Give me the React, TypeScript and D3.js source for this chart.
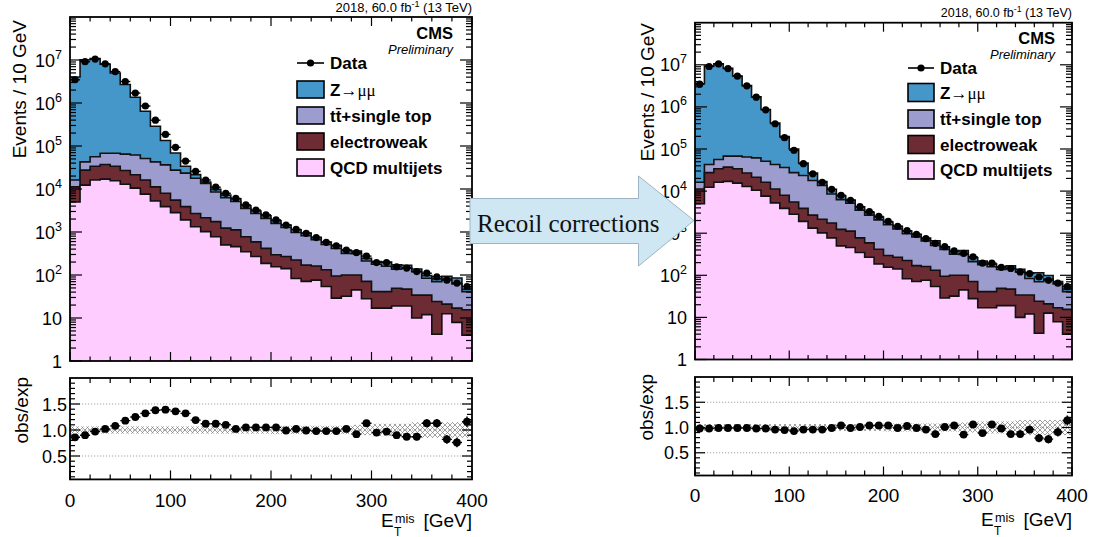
import React from "react";
import * as d3 from "d3";

// ---------- data ----------
const binLow = [0, 10, 20, 30, 40, 50, 60, 70, 80, 90, 100, 110, 120, 130, 140, 150, 160, 170, 180, 190,
  200, 210, 220, 230, 240, 250, 260, 270, 280, 290, 300, 310, 320, 330, 340, 350, 360, 370, 380, 390];
const binWidth = 10;

const dataCounts = [3.47e6, 9.12e6, 1.05e7, 8.13e6, 5.37e6, 3.16e6, 1.7e6, 8.51e5, 3.98e5, 1.86e5,
  9.33e4, 4.47e4, 2.57e4, 1.62e4, 1.1e4, 7940, 6030, 4270, 3240, 2510,
  1910, 1450, 1150, 933, 741, 575, 479, 380, 331, 275,
  195, 195, 155, 145, 120, 110, 91, 76, 65, 54];

const qcdMultijets = [5000, 12300, 16200, 17000, 15500, 12900, 10500, 7590, 5250, 3890,
  2820, 1910, 1320, 1020, 776, 501, 457, 347, 269, 186,
  155, 141, 83, 71, 76, 54, 29, 32, 45, 28,
  17, 17, 19, 19, 10, 12, 4.2, 12.6, 7.9, 4];

const electroweak = [6200, 15200, 17700, 20200, 18400, 14000, 10900, 8610, 5950, 4050,
  2680, 1980, 1370, 1120, 964, 729, 663, 429, 320, 231,
  140, 128, 141, 99, 86, 78, 66, 68, 55, 43,
  24, 24, 30, 28, 24, 22, 20, 8.4, 9.1, 11.5];

const ttbarSingleTop = [5000, 15200, 22300, 30400, 33700, 37700, 40300, 35100, 31500, 28400,
  22000, 19500, 15100, 11400, 6800, 5050, 4020, 2760, 2100, 1660,
  1290, 1000, 750, 650, 496, 379, 317, 218, 213, 140,
  137, 119, 88, 98, 86, 50, 46, 60, 45, 25.5];

const zmumuBefore = [4.01e6, 1.006e7, 1.074e7, 7.9e6, 4.9e6, 2.62e6, 1.3e6, 5.94e5, 2.45e5, 9.77e4,
  4.11e4, 1.05e4, 3800, 1000, 1280, 940, 770, 530, 400, 310,
  240, 190, 155, 122, 98, 76, 77, 55, 47, 32,
  27, 41, 35, 22, 18, 13, 11, 12, 23, 6];

const zmumuAfter = [3.52e6, 9.27e6, 1.054e7, 8.14e6, 5.35e6, 3.13e6, 1.67e6, 8.17e5, 3.72e5, 1.6e5,
  7.25e4, 2.32e4, 9000, 3400, 2560, 1350, 950, 690, 430, 330,
  260, 190, 145, 122, 114, 150, 62, 47, 72, 48,
  41, 24, 21, 22, 18, 31, 45, 18, 9, 6];

const ratioBefore = [0.86, 0.9, 0.97, 1.02, 1.08, 1.18, 1.25, 1.32, 1.38, 1.39,
  1.36, 1.32, 1.19, 1.12, 1.12, 1.1, 1.02, 1.05, 1.05, 1.05,
  1.05, 0.99, 1.02, 0.99, 0.98, 0.98, 0.98, 1.02, 0.92, 1.13,
  0.95, 0.97, 0.9, 0.87, 0.87, 1.13, 1.13, 0.82, 0.76, 1.16];

const ratioAfter = [0.98, 0.98, 0.99, 0.99, 0.99, 0.99, 0.98, 0.98, 0.96, 0.95,
  0.93, 0.96, 0.96, 0.96, 0.99, 1.04, 0.99, 1.01, 1.04, 1.04,
  1.04, 0.99, 1.03, 0.99, 0.96, 0.87, 1.01, 1.04, 0.86, 1.06,
  0.89, 1.06, 0.98, 0.87, 0.87, 0.96, 0.79, 0.77, 0.91, 1.14];

const ratioErr = [0.01, 0.01, 0.01, 0.01, 0.01, 0.01, 0.01, 0.01, 0.01, 0.01,
  0.01, 0.01, 0.01, 0.01, 0.01, 0.01, 0.01, 0.01, 0.015, 0.015,
  0.02, 0.02, 0.02, 0.02, 0.025, 0.03, 0.03, 0.035, 0.04, 0.045,
  0.05, 0.05, 0.055, 0.06, 0.065, 0.075, 0.08, 0.085, 0.09, 0.1];

const mcUncertainty = [0.07, 0.07, 0.07, 0.07, 0.07, 0.07, 0.07, 0.07, 0.07, 0.07,
  0.07, 0.07, 0.07, 0.07, 0.07, 0.07, 0.07, 0.07, 0.07, 0.07,
  0.08, 0.08, 0.08, 0.08, 0.08, 0.08, 0.08, 0.08, 0.1, 0.1,
  0.12, 0.12, 0.12, 0.12, 0.15, 0.15, 0.15, 0.15, 0.15, 0.15];

const xTickLabels = ["0", "100", "200", "300", "400"];
const xTickValues = [0, 100, 200, 300, 400];
const yDecades = [0, 1, 2, 3, 4, 5, 6, 7];
const ratioTickValues = [0.5, 1.0, 1.5];
const ratioTickLabels = ["0.5", "1.0", "1.5"];
const legendLabels = ["Z", "tt̄+single top", "electroweak", "QCD multijets"];

// ---------- styles ----------
const COL_Z = "#4597c9";
const COL_TT = "#9c9cce";
const COL_EWK = "#6d2b34";
const COL_QCD = "#ffccff";
const SANS = "'Liberation Sans', Arial, Helvetica, sans-serif";
const SERIF = "'Liberation Serif', 'Times New Roman', serif";

type Cfg = {
  id: string;
  x0: number; x1: number;
  mainTop: number; mainBottom: number;
  ratioTop: number; ratioBottom: number;
  z: number[]; ratio: number[];
  headerY: number; headerSize: number;
  cmsX: number; cmsY: number; prelimY: number;
  legend: { lineY: number; boxX: number; boxW: number; boxH: number; textX: number; tops: number[] };
  xLabelY: number; xTitleY: number;
  yTitleX: number; yTitleEnd: number; ratioTitleX: number; ratioTitleEnd: number;
  ratioLabelGap: number;
};

const leftCfg: Cfg = {
  id: "L", x0: 70, x1: 472, mainTop: 17, mainBottom: 361, ratioTop: 378, ratioBottom: 479.4,
  z: zmumuBefore, ratio: ratioBefore,
  headerY: 12, headerSize: 13, cmsX: 453, cmsY: 39, prelimY: 54,
  legend: { lineY: 63, boxX: 297, boxW: 27, boxH: 17, textX: 330, tops: [81, 107, 133, 159] },
  xLabelY: 507, xTitleY: 527, yTitleX: 26, yTitleEnd: 20, ratioTitleX: 28, ratioTitleEnd: 377,
  ratioLabelGap: 3,
};

const rightCfg: Cfg = {
  id: "R", x0: 695, x1: 1072, mainTop: 22.7, mainBottom: 359.5, ratioTop: 377, ratioBottom: 475.5,
  z: zmumuAfter, ratio: ratioAfter,
  headerY: 17, headerSize: 12.5, cmsX: 1055, cmsY: 44, prelimY: 59,
  legend: { lineY: 68, boxX: 908, boxW: 26, boxH: 18, textX: 940, tops: [83.5, 110, 135.5, 161] },
  xLabelY: 502, xTitleY: 526, yTitleX: 654, yTitleEnd: 23, ratioTitleX: 653, ratioTitleEnd: 374,
  ratioLabelGap: 6,
};

function Panel({ cfg }: { cfg: Cfg }) {
  const xs = d3.scaleLinear().domain([0, 400]).range([cfg.x0, cfg.x1]);
  const ys = d3.scaleLog().domain([1, 1e8]).range([cfg.mainBottom, cfg.mainTop]).clamp(true);
  const ry = d3.scaleLinear().domain([0.05, 2.0]).range([cfg.ratioBottom, cfg.ratioTop]);

  const c1 = qcdMultijets;
  const c2 = c1.map((v, i) => v + electroweak[i]);
  const c3 = c2.map((v, i) => v + ttbarSingleTop[i]);
  const c4 = c3.map((v, i) => v + cfg.z[i]);
  const layers = [
    { vals: c4, color: COL_Z },
    { vals: c3, color: COL_TT },
    { vals: c2, color: COL_EWK },
    { vals: c1, color: COL_QCD },
  ];
  const stepPts = (vals: number[]) =>
    vals.flatMap((v, i) => [[binLow[i], v], [binLow[i] + binWidth, v]] as [number, number][]);
  const area = d3.area<[number, number]>().x((d) => xs(d[0])).y0(cfg.mainBottom).y1((d) => ys(d[1]));
  const line = d3.line<[number, number]>().x((d) => xs(d[0])).y((d) => ys(d[1]));

  const mainClip = `clipMain${cfg.id}`;
  const ratioClip = `clipRatio${cfg.id}`;

  const xMinor = d3.range(0, 401, 20).filter((v) => v % 100 !== 0);
  const logMinor: number[] = [];
  for (let k = 0; k < 8; k++) for (let m = 2; m <= 9; m++) logMinor.push(m * Math.pow(10, k));
  const rMinor = d3.range(1, 20).map((v) => v / 10).filter((v) => Math.abs(v * 2 - Math.round(v * 2)) > 1e-6);

  const tickLines: JSX.Element[] = [];
  let key = 0;
  const addV = (x: number, yA: number, yB: number) =>
    tickLines.push(<line key={key++} x1={x} x2={x} y1={yA} y2={yB} stroke="#000" strokeWidth={1.2} />);
  const addH = (y: number, xA: number, xB: number) =>
    tickLines.push(<line key={key++} x1={xA} x2={xB} y1={y} y2={y} stroke="#000" strokeWidth={1.2} />);

  xTickValues.forEach((v) => {
    addV(xs(v), cfg.mainBottom, cfg.mainBottom - 9);
    addV(xs(v), cfg.mainTop, cfg.mainTop + 9);
    addV(xs(v), cfg.ratioBottom, cfg.ratioBottom - 9);
    addV(xs(v), cfg.ratioTop, cfg.ratioTop + 9);
  });
  xMinor.forEach((v) => {
    addV(xs(v), cfg.mainBottom, cfg.mainBottom - 4.5);
    addV(xs(v), cfg.mainTop, cfg.mainTop + 4.5);
    addV(xs(v), cfg.ratioBottom, cfg.ratioBottom - 5);
    addV(xs(v), cfg.ratioTop, cfg.ratioTop + 5);
  });
  yDecades.forEach((k) => {
    const y = ys(Math.pow(10, k));
    addH(y, cfg.x0, cfg.x0 + 12);
    addH(y, cfg.x1, cfg.x1 - 12);
  });
  logMinor.forEach((v) => {
    const y = ys(v);
    addH(y, cfg.x0, cfg.x0 + 6);
    addH(y, cfg.x1, cfg.x1 - 6);
  });
  ratioTickValues.forEach((v) => {
    addH(ry(v), cfg.x0, cfg.x0 + 10);
    addH(ry(v), cfg.x1, cfg.x1 - 10);
  });
  rMinor.forEach((v) => {
    addH(ry(v), cfg.x0, cfg.x0 + 5);
    addH(ry(v), cfg.x1, cfg.x1 - 5);
  });

  const lg = cfg.legend;
  const layerColors = [COL_Z, COL_TT, COL_EWK, COL_QCD];

  return (
    <g>
      <defs>
        <clipPath id={mainClip}>
          <rect x={cfg.x0} y={cfg.mainTop} width={cfg.x1 - cfg.x0} height={cfg.mainBottom - cfg.mainTop} />
        </clipPath>
        <clipPath id={ratioClip}>
          <rect x={cfg.x0} y={cfg.ratioTop} width={cfg.x1 - cfg.x0} height={cfg.ratioBottom - cfg.ratioTop} />
        </clipPath>
      </defs>

      <g clipPath={`url(#${mainClip})`}>
        {layers.map((l, i) => (
          <g key={i}>
            <path d={area(stepPts(l.vals)) || ""} fill={l.color} />
            <path d={line(stepPts(l.vals)) || ""} fill="none" stroke="#111" strokeWidth={1.6} />
          </g>
        ))}
        {dataCounts.map((v, i) => (
          <g key={"d" + i}>
            <line x1={xs(binLow[i])} x2={xs(binLow[i] + binWidth)} y1={ys(v)} y2={ys(v)} stroke="#000" strokeWidth={1.4} />
            <circle cx={xs(binLow[i] + binWidth / 2)} cy={ys(v)} r={3.6} fill="#000" />
          </g>
        ))}
      </g>

      <g clipPath={`url(#${ratioClip})`}>
        {ratioTickValues.map((v) => (
          <line key={"g" + v} x1={cfg.x0} x2={cfg.x1} y1={ry(v)} y2={ry(v)} stroke="#999" strokeWidth={0.9} strokeDasharray="1.2,1.8" />
        ))}
        {mcUncertainty.map((u, i) => (
          <rect key={"b" + i} x={xs(binLow[i])} width={xs(binLow[i] + binWidth) - xs(binLow[i])}
            y={ry(1 + u)} height={ry(1 - u) - ry(1 + u)} fill="url(#hatch)" />
        ))}
        {cfg.ratio.map((r, i) => (
          <g key={"r" + i}>
            <line x1={xs(binLow[i])} x2={xs(binLow[i] + binWidth)} y1={ry(r)} y2={ry(r)} stroke="#000" strokeWidth={1.4} />
            <line x1={xs(binLow[i] + binWidth / 2)} x2={xs(binLow[i] + binWidth / 2)} y1={ry(r - ratioErr[i])} y2={ry(r + ratioErr[i])} stroke="#000" strokeWidth={1.5} />
            <circle cx={xs(binLow[i] + binWidth / 2)} cy={ry(r)} r={3.9} fill="#000" />
          </g>
        ))}
      </g>

      {tickLines}
      <rect x={cfg.x0} y={cfg.mainTop} width={cfg.x1 - cfg.x0} height={cfg.mainBottom - cfg.mainTop} fill="none" stroke="#000" strokeWidth={1.8} />
      <rect x={cfg.x0} y={cfg.ratioTop} width={cfg.x1 - cfg.x0} height={cfg.ratioBottom - cfg.ratioTop} fill="none" stroke="#000" strokeWidth={1.8} />

      {yDecades.map((k) => (
        <text key={"yl" + k} x={cfg.x0 - 8} y={ys(Math.pow(10, k)) + 6.5} textAnchor="end" fontSize={18} fontFamily={SANS}>
          {k === 0 ? "1" : "10"}
          {k >= 2 ? <tspan dy={-8} fontSize={12.5}>{String(k)}</tspan> : null}
        </text>
      ))}
      {ratioTickValues.map((v, i) => (
        <text key={"rl" + i} x={cfg.x0 - cfg.ratioLabelGap} y={ry(v) + 6.5} textAnchor="end" fontSize={18} fontFamily={SANS}>
          {ratioTickLabels[i]}
        </text>
      ))}
      {xTickValues.map((v, i) => (
        <text key={"xl" + i} x={xs(v)} y={cfg.xLabelY} textAnchor="middle" fontSize={19} fontFamily={SANS}>
          {xTickLabels[i]}
        </text>
      ))}

      <text transform={`translate(${cfg.yTitleX},${cfg.yTitleEnd}) rotate(-90)`} textAnchor="end" fontSize={19} fontFamily={SANS}>
        Events / 10 GeV
      </text>
      <text transform={`translate(${cfg.ratioTitleX},${cfg.ratioTitleEnd}) rotate(-90)`} textAnchor="end" fontSize={19} fontFamily={SANS}>
        obs/exp
      </text>
      <text x={cfg.x1 - 91} y={cfg.xTitleY} fontSize={19} fontFamily={SANS}>E</text>
      <text x={cfg.x1 - 77} y={cfg.xTitleY - 4} fontSize={12.5} fontFamily={SANS}>mis</text>
      <text x={cfg.x1 - 78} y={cfg.xTitleY + 8.5} fontSize={12} fontFamily={SANS}>T</text>
      <text x={cfg.x1} y={cfg.xTitleY} textAnchor="end" fontSize={19} fontFamily={SANS}>[GeV]</text>

      <text x={cfg.x1} y={cfg.headerY} textAnchor="end" fontSize={cfg.headerSize} fontFamily={SANS}>
        2018, 60.0 fb<tspan dy={-5} fontSize={cfg.headerSize * 0.7}>-1</tspan>
        <tspan dy={5} fontSize={cfg.headerSize}> (13 TeV)</tspan>
      </text>
      <text x={cfg.cmsX} y={cfg.cmsY} textAnchor="end" fontSize={16.5} fontWeight="bold" fontFamily={SANS}>CMS</text>
      <text x={cfg.cmsX} y={cfg.prelimY} textAnchor="end" fontSize={13} fontStyle="italic" fontFamily={SANS}>Preliminary</text>

      <line x1={lg.boxX} x2={lg.boxX + lg.boxW} y1={lg.lineY} y2={lg.lineY} stroke="#000" strokeWidth={1.6} />
      <circle cx={lg.boxX + lg.boxW / 2} cy={lg.lineY} r={3.6} fill="#000" />
      <text x={lg.textX} y={lg.lineY + 6} fontSize={17} fontWeight="bold" fontFamily={SANS}>Data</text>
      {lg.tops.map((t, i) => (
        <g key={"lg" + i}>
          <rect x={lg.boxX} y={t} width={lg.boxW} height={lg.boxH} fill={layerColors[i]} stroke="#000" strokeWidth={1.6} />
          <text x={lg.textX} y={t + lg.boxH / 2 + 6} fontSize={17} fontWeight="bold" fontFamily={SANS}>
            {legendLabels[i]}
            {i === 0 ? <tspan fontWeight="normal" fontFamily={SERIF}>→μμ</tspan> : null}
          </text>
        </g>
      ))}
    </g>
  );
}

function Arrow() {
  const pts = [[470, 198.5], [638.5, 198.5], [638.5, 176], [694, 220.5], [638.5, 266], [638.5, 243.5], [470, 243.5]];
  return (
    <g>
      <polygon points={pts.map((p) => p.join(",")).join(" ")} fill="#cfe6f3" stroke="#9fb3c4" strokeWidth={1} />
      <text x={477} y={231.5} fontSize={25} fontFamily={SERIF} fill="#111">Recoil corrections</text>
    </g>
  );
}

export default function App() {
  return (
    <svg width={1096} height={537} style={{ position: "absolute", left: 0, top: 0, background: "#fff" }}>
      <defs>
        <pattern id="hatch" patternUnits="userSpaceOnUse" width={5} height={5}>
          <path d="M0,0L5,5M5,0L0,5" stroke="#7a7a7a" strokeWidth={0.7} />
        </pattern>
      </defs>
      <rect x={0} y={0} width={1096} height={537} fill="#fff" />
      <Panel cfg={leftCfg} />
      <Panel cfg={rightCfg} />
      <Arrow />
    </svg>
  );
}
